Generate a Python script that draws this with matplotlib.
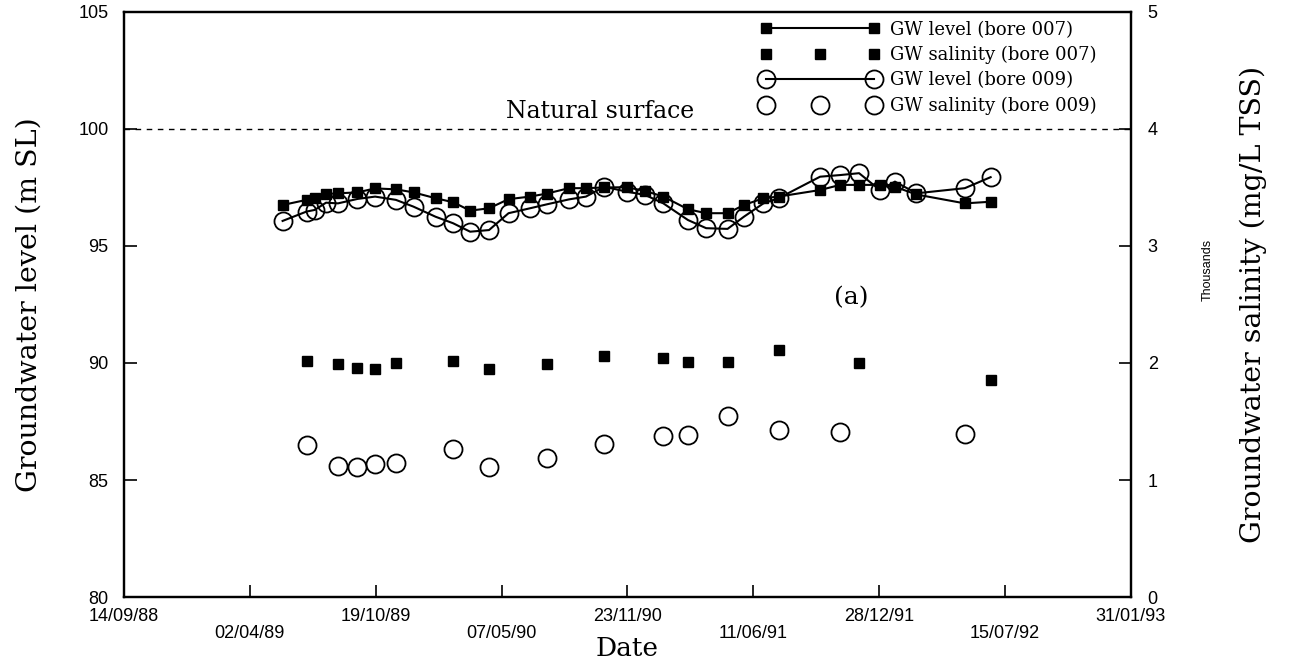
import pandas as pd
import matplotlib
matplotlib.use("Agg")
import matplotlib.pyplot as plt
import matplotlib.dates as mdates
from matplotlib.ticker import FixedLocator, FuncFormatter
from matplotlib.legend_handler import HandlerLine2D

# podaci ocitani sa slike
datumi_razina = ["1989-05-24", "1989-07-01", "1989-07-14", "1989-08-01", "1989-08-20",
                 "1989-09-20", "1989-10-18", "1989-11-20", "1989-12-18", "1990-01-22",
                 "1990-02-19", "1990-03-18", "1990-04-17", "1990-05-18", "1990-06-21",
                 "1990-07-18", "1990-08-22", "1990-09-18", "1990-10-17", "1990-11-22",
                 "1990-12-21", "1991-01-19", "1991-02-27", "1991-03-28", "1991-05-01",
                 "1991-05-27", "1991-06-27", "1991-07-21", "1991-09-25", "1991-10-27",
                 "1991-11-26", "1991-12-29", "1992-01-22", "1992-02-25", "1992-05-12",
                 "1992-06-22"]
razina_007 = [96.75, 96.97, 97.04, 97.22, 97.25, 97.29, 97.46, 97.42, 97.29, 97.04,
              96.87, 96.51, 96.61, 97.00, 97.11, 97.24, 97.47, 97.47, 97.50, 97.51,
              97.35, 97.11, 96.57, 96.40, 96.40, 96.75, 97.04, 97.11, 97.39, 97.61,
              97.61, 97.61, 97.53, 97.20, 96.82, 96.89]
razina_009 = [96.07, 96.47, 96.54, 96.85, 96.82, 97.01, 97.11, 96.97, 96.68, 96.25,
              95.97, 95.61, 95.68, 96.40, 96.61, 96.78, 96.99, 97.11, 97.53, 97.32,
              97.18, 96.82, 96.11, 95.76, 95.73, 96.25, 96.82, 97.04, 97.96, 98.03,
              98.11, 97.39, 97.75, 97.25, 97.47, 97.94]

datumi_sal_007 = ["1989-07-01", "1989-08-20", "1989-09-20", "1989-10-18", "1989-11-20",
                  "1990-02-19", "1990-04-17", "1990-07-18", "1990-10-17", "1991-01-19",
                  "1991-02-27", "1991-05-01", "1991-07-21", "1991-11-26", "1992-06-22"]
salinitet_007 = [2017, 1989, 1955, 1946, 1997, 2020, 1946, 1994, 2060, 2045,
                 2009, 2009, 2111, 1997, 1855]
datumi_sal_009 = ["1989-07-01", "1989-08-20", "1989-09-20", "1989-10-18", "1989-11-20",
                  "1990-02-19", "1990-04-17", "1990-07-18", "1990-10-17", "1991-01-19",
                  "1991-02-27", "1991-05-01", "1991-07-21", "1991-10-27", "1992-05-12"]
salinitet_009 = [1299, 1120, 1109, 1134, 1143, 1262, 1114, 1185, 1305, 1376,
                 1387, 1550, 1430, 1408, 1391]

x_oznake = ["14/09/88", "02/04/89", "19/10/89", "07/05/90", "23/11/90",
            "11/06/91", "28/12/91", "15/07/92", "31/01/93"]
prirodna_povrsina = 100

serif = "DejaVu Serif"
sans = "Liberation Sans"

fig = plt.figure(figsize=(12.89, 6.63), dpi=100)
ax1 = fig.add_axes([0.0962, 0.0995, 0.7812, 0.8825])
ax2 = ax1.twinx()

d_raz = pd.to_datetime(datumi_razina)
d_s7 = pd.to_datetime(datumi_sal_007)
d_s9 = pd.to_datetime(datumi_sal_009)

l1, = ax1.plot(d_raz, razina_007, "s-", color="black", lw=1.5, ms=7,
               label="GW level (bore 007)")
l3, = ax1.plot(d_raz, razina_009, "o-", color="black", lw=1.5, ms=13,
               mfc="none", mew=1.3, label="GW level (bore 009)")
ax1.axhline(prirodna_povrsina, color="black", lw=1.0, ls=(0, (4, 4)))

l2, = ax2.plot(d_s7, salinitet_007, "s", color="black", ms=7,
               label="GW salinity (bore 007)")
l4, = ax2.plot(d_s9, salinitet_009, "o", color="black", ms=13,
               mfc="none", mew=1.3, label="GW salinity (bore 009)")

# x os - datumi, svaka druga oznaka ide red nize
x_tickovi = pd.to_datetime(x_oznake, format="%d/%m/%y")
ax1.set_xlim(x_tickovi[0], x_tickovi[-1])
ax1.xaxis.set_major_locator(FixedLocator(mdates.date2num(x_tickovi)))
ax1.set_xticklabels([t if i % 2 == 0 else "\n" + t for i, t in enumerate(x_oznake)],
                    fontfamily=sans, fontsize=13, linespacing=1.0)

ax1.set_ylim(80, 105)
ax1.set_yticks([80, 85, 90, 95, 100, 105])
ax1.set_yticklabels(["80", "85", "90", "95", "100", "105"], fontfamily=sans, fontsize=13)
ax2.set_ylim(0, 5000)
ax2.set_yticks([0, 1000, 2000, 3000, 4000, 5000])
ax2.yaxis.set_major_formatter(FuncFormatter(lambda v, p: f"{v/1000:.0f}"))
for lab in ax2.get_yticklabels():
    lab.set_fontfamily(sans)
    lab.set_fontsize(13)

for ax in (ax1, ax2):
    ax.tick_params(direction="in", length=9, width=1.2)
    for s in ax.spines.values():
        s.set_linewidth(1.6)
ax1.tick_params(axis="x", pad=8)
ax1.tick_params(axis="y", pad=11)
ax2.tick_params(axis="y", pad=12)

ax1.set_ylabel("Groundwater level (m SL)", fontfamily=serif, fontsize=20.5)
ax1.yaxis.set_label_coords(-0.081, 0.5)
ax2.set_ylabel("Groundwater salinity (mg/L TSS)", fontfamily=serif, fontsize=20.5)
ax2.yaxis.set_label_coords(1.108, 0.5)
ax1.set_xlabel("Date", fontfamily=serif, fontsize=19)
ax1.xaxis.set_label_coords(0.5, -0.066)
fig.text(0.937, 0.593, "Thousands", rotation=90, fontfamily=sans, fontsize=9,
         ha="center", va="center")

ax1.text(pd.Timestamp("1990-10-10"), 100.25, "Natural surface", fontfamily=serif,
         fontsize=17, ha="center", va="bottom")
ax1.text(pd.Timestamp("1991-11-14"), 92.8, "(a)", fontfamily=serif, fontsize=18,
         ha="center", va="center")

ax2.legend([l1, l2, l3, l4], [l.get_label() for l in (l1, l2, l3, l4)],
           handler_map={l1: HandlerLine2D(numpoints=2), l2: HandlerLine2D(numpoints=3),
                        l3: HandlerLine2D(numpoints=2), l4: HandlerLine2D(numpoints=3)},
           loc="upper right", bbox_to_anchor=(0.966, 0.985), frameon=False,
           prop={"family": serif, "size": 13}, handlelength=6.6, handletextpad=0.6,
           labelspacing=0.4, borderpad=0, borderaxespad=0)

fig.savefig("out.png", dpi=100)
